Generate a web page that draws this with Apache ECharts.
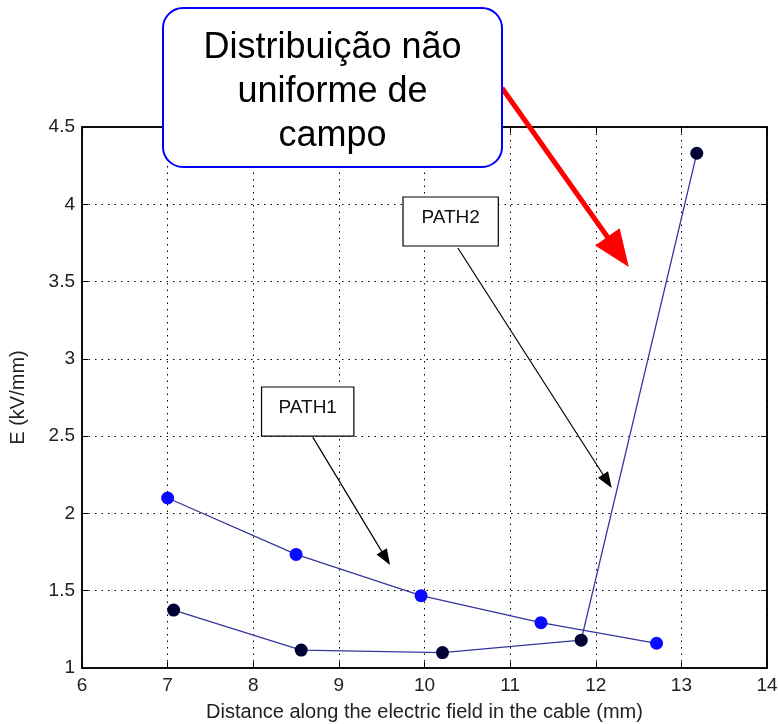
<!DOCTYPE html>
<html>
<head>
<meta charset="utf-8">
<script src="https://cdn.jsdelivr.net/npm/echarts@6/dist/echarts.min.js"></script>
<style>html,body{margin:0;padding:0;background:#fff}#c{width:778px;height:724px}</style>
</head>
<body>
<div id="c"></div>
<script>
// ---- data ----
const path1X = [7.0, 8.5, 9.96, 11.36, 12.71];
const path1Y = [2.10, 1.735, 1.468, 1.293, 1.16];
const path2X = [7.07, 8.56, 10.21, 11.83, 13.18];
const path2Y = [1.375, 1.116, 1.10, 1.18, 4.33];
const xTicks = [6, 7, 8, 9, 10, 11, 12, 13, 14];
const yTicks = [1, 1.5, 2, 2.5, 3, 3.5, 4, 4.5];
const xName = 'Distance along the electric field in the cable (mm)';
const yName = 'E (kV/mm)';
const calloutText = 'Distribuição não\nuniforme de\ncampo';
// annotation anchors in data units
const path1Label = {text: 'PATH1', x0: 8.097, y0: 2.818, x1: 9.175, y1: 2.50};
const path2Label = {text: 'PATH2', x0: 9.749, y0: 4.047, x1: 10.862, y1: 3.73};
const path1Arrow = {from: [8.695, 2.494], to: [9.597, 1.666]};
const path2Arrow = {from: [10.39, 3.717], to: [12.186, 2.164]};
const redArrowTo = [12.386, 3.594];

const FONT = '"Liberation Sans", Arial, sans-serif';
const chart = echarts.init(document.getElementById('c'));

const pairs = (xs, ys) => xs.map((x, i) => [x, ys[i]]);
const axisCommon = {
  type: 'value',
  axisLine: {show: true, lineStyle: {color: '#000', width: 1.5}},
  axisTick: {show: true, inside: true, length: 6, lineStyle: {color: '#000'}},
};

chart.setOption({
  animation: false,
  backgroundColor: '#fff',
  grid: {left: 82, right: 11, top: 127, bottom: 56, containLabel: false, outerBoundsMode: 'none',
    show: true, borderColor: '#000', borderWidth: 1.5, backgroundColor: 'transparent'},
  xAxis: [
    Object.assign({}, axisCommon, {
      min: xTicks[0], max: xTicks[xTicks.length - 1], interval: 1,
      name: xName, nameLocation: 'middle', nameGap: 34,
      nameTextStyle: {fontFamily: FONT, fontSize: 20, color: '#222'},
      axisLabel: {fontFamily: FONT, fontSize: 19, color: '#222', margin: 8},
      splitLine: {show: true, lineStyle: {color: '#000', type: [1.5, 5], width: 1}}
    }),
    Object.assign({}, axisCommon, {
      position: 'top', min: xTicks[0], max: xTicks[xTicks.length - 1], interval: 1,
      axisLabel: {show: false}, splitLine: {show: false}
    })
  ],
  yAxis: [
    Object.assign({}, axisCommon, {
      min: yTicks[0], max: yTicks[yTicks.length - 1], interval: 0.5,
      name: yName, nameLocation: 'middle', nameGap: 54, nameRotate: 90,
      nameTextStyle: {fontFamily: FONT, fontSize: 20, color: '#222'},
      axisLabel: {fontFamily: FONT, fontSize: 19, color: '#222', margin: 7,
        formatter: v => String(v)},
      splitLine: {show: true, lineStyle: {color: '#000', type: [1.5, 5], width: 1}}
    }),
    Object.assign({}, axisCommon, {
      position: 'right', min: yTicks[0], max: yTicks[yTicks.length - 1], interval: 0.5,
      axisLabel: {show: false}, splitLine: {show: false}
    })
  ],
  series: [
    {
      name: 'PATH1', type: 'line', data: pairs(path1X, path1Y),
      symbol: 'circle', symbolSize: 13,
      lineStyle: {color: '#35359e', width: 1.3},
      itemStyle: {color: '#0a0aff'}
    },
    {
      name: 'PATH2', type: 'line', data: pairs(path2X, path2Y),
      symbol: 'circle', symbolSize: 13,
      lineStyle: {color: '#35359e', width: 1.3},
      itemStyle: {color: '#000033'}
    }
  ]
});

function px(p) { return chart.convertToPixel({gridIndex: 0}, p); }
function arrow(a, b, headLen, headHalf, color, lw) {
  const dx = b[0] - a[0], dy = b[1] - a[1];
  const L = Math.hypot(dx, dy), ux = dx / L, uy = dy / L;
  const bx = b[0] - ux * headLen, by = b[1] - uy * headLen;
  const nx = -uy, ny = ux;
  return [
    {type: 'line', shape: {x1: a[0], y1: a[1], x2: bx + ux * 2, y2: by + uy * 2}, style: {stroke: color, lineWidth: lw}, z: 100},
    {type: 'polygon', shape: {points: [[b[0], b[1]], [bx + nx * headHalf, by + ny * headHalf], [bx - nx * headHalf, by - ny * headHalf]]}, style: {fill: color}, z: 100}
  ];
}
function labelBox(l) {
  const p0 = px([l.x0, l.y0]), p1 = px([l.x1, l.y1]);
  return [
    {type: 'rect', shape: {x: p0[0], y: p0[1], width: p1[0] - p0[0], height: p1[1] - p0[1]}, style: {fill: '#fff', stroke: '#000', lineWidth: 1.2}, z: 100},
    {type: 'text', x: (p0[0] + p1[0]) / 2, y: (p0[1] + p1[1]) / 2 - 4, style: {text: l.text, fontFamily: FONT, fontSize: 19, fill: '#111', align: 'center', verticalAlign: 'middle'}, z: 101}
  ];
}

const calloutBox = {x: 163, y: 8, w: 339, h: 159};
const redFrom = [calloutBox.x + calloutBox.w, 88];
const elements = [].concat(
  arrow(px(path1Arrow.from), px(path1Arrow.to), 16, 6, '#000', 1.2),
  arrow(px(path2Arrow.from), px(path2Arrow.to), 16, 6, '#000', 1.2),
  labelBox(path1Label),
  labelBox(path2Label),
  arrow(redFrom, px(redArrowTo), 37, 15, '#ff0000', 5),
  [
    {type: 'rect', shape: {x: calloutBox.x, y: calloutBox.y, width: calloutBox.w, height: calloutBox.h, r: 20}, style: {fill: '#fff', stroke: '#0000ff', lineWidth: 2}, z: 110},
    {type: 'text', x: calloutBox.x + calloutBox.w / 2, y: 92, style: {text: calloutText, fontFamily: FONT, fontSize: 36, lineHeight: 44, fill: '#000', align: 'center', verticalAlign: 'middle'}, z: 111}
  ]
);
chart.setOption({graphic: {elements: elements}});
</script>
</body>
</html>
